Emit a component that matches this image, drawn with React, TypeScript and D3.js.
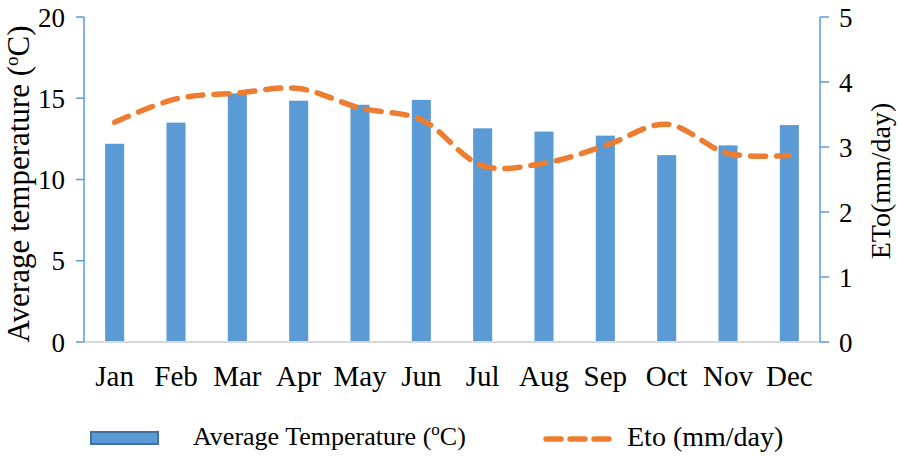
import React from "react";
import * as d3 from "d3";

const months = ["Jan", "Feb", "Mar", "Apr", "May", "Jun", "Jul", "Aug", "Sep", "Oct", "Nov", "Dec"];
const avgTemp = [12.2, 13.5, 15.3, 14.85, 14.6, 14.9, 13.15, 12.95, 12.7, 11.5, 12.1, 13.35];
const eto = [3.38, 3.74, 3.83, 3.9, 3.6, 3.42, 2.71, 2.75, 3.02, 3.35, 2.9, 2.87];
const leftTicks = [0, 5, 10, 15, 20];
const rightTicks = [0, 1, 2, 3, 4, 5];

const W = 898;
const H = 457;
const FONT = "Liberation Serif, DejaVu Serif, serif";
const BLUE = "#5B9BD5";
const ORANGE = "#ED7D31";

export default function App() {
	const x0 = 84, x1 = 820, yTop = 17, yBot = 342;
	const x = d3.scaleBand().domain(months).range([x0, x1]).paddingInner(0.69).paddingOuter(0.345);
	const yL = d3.scaleLinear().domain([0, 20]).range([yBot, yTop]);
	const yR = d3.scaleLinear().domain([0, 5]).range([yBot, yTop]);
	const center = (m) => (x(m) as number) + x.bandwidth() / 2;

	const line = d3.line<number>()
		.x((d, i) => center(months[i]))
		.y(d => yR(d))
		.curve(d3.curveCatmullRom.alpha(0.5));

	return (
		<svg width={W} height={H} style={{ position: "absolute", left: 0, top: 0, background: "#fff", fontFamily: FONT }}>
			{/* bars */}
			{avgTemp.map((v, i) => (
				<rect key={months[i]} x={x(months[i])} y={yL(v)} width={x.bandwidth()} height={yL(0) - yL(v)} fill={BLUE} />
			))}
			{/* baseline */}
			<line x1={x0} x2={x1} y1={yBot} y2={yBot} stroke="#D9D9D9" strokeWidth={2} />
			{/* left axis */}
			<line x1={x0} x2={x0} y1={yTop} y2={yBot} stroke={BLUE} strokeWidth={1.5} />
			{leftTicks.map(t => (
				<g key={"l" + t}>
					<line x1={x0 - 8} x2={x0} y1={yL(t)} y2={yL(t)} stroke={BLUE} strokeWidth={1.5} />
					<text x={65} y={yL(t)} dy="0.36em" textAnchor="end" fontSize={27}>{t}</text>
				</g>
			))}
			{/* right axis */}
			<line x1={x1} x2={x1} y1={yTop} y2={yBot} stroke={BLUE} strokeWidth={1.5} />
			{rightTicks.map(t => (
				<g key={"r" + t}>
					<line x1={x1} x2={x1 + 9} y1={yR(t)} y2={yR(t)} stroke={BLUE} strokeWidth={1.5} />
					<text x={839} y={yR(t)} dy="0.36em" textAnchor="start" fontSize={27}>{t}</text>
				</g>
			))}
			{/* month labels */}
			{months.map(m => (
				<text key={m} x={center(m)} y={386} textAnchor="middle" fontSize={29}>{m}</text>
			))}
			{/* eto line */}
			<path d={line(eto) || ""} fill="none" stroke={ORANGE} strokeWidth={5.5} strokeDasharray="15,11" strokeLinecap="round" />
			{/* axis titles */}
			<text transform="translate(29,184) rotate(-90)" textAnchor="middle" fontSize={31}>
				Average temperature (<tspan fontSize={19} dy={-11}>o</tspan><tspan dy={11}>C)</tspan>
			</text>
			<text transform="translate(890,181) rotate(-90)" textAnchor="middle" fontSize={28}>ETo(mm/day)</text>
			{/* legend */}
			<rect x={91} y={432} width={67} height={12} fill={BLUE} stroke="#41719C" strokeWidth={2} />
			<text x={193} y={445} fontSize={26}>
				Average Temperature (<tspan fontSize={17} dy={-10}>o</tspan><tspan dy={10}>C)</tspan>
			</text>
			<line x1={546} x2={611} y1={439} y2={439} stroke={ORANGE} strokeWidth={5.5} strokeDasharray="15,9" strokeLinecap="round" />
			<text x={627} y={446} fontSize={28}>Eto (mm/day)</text>
		</svg>
	);
}
